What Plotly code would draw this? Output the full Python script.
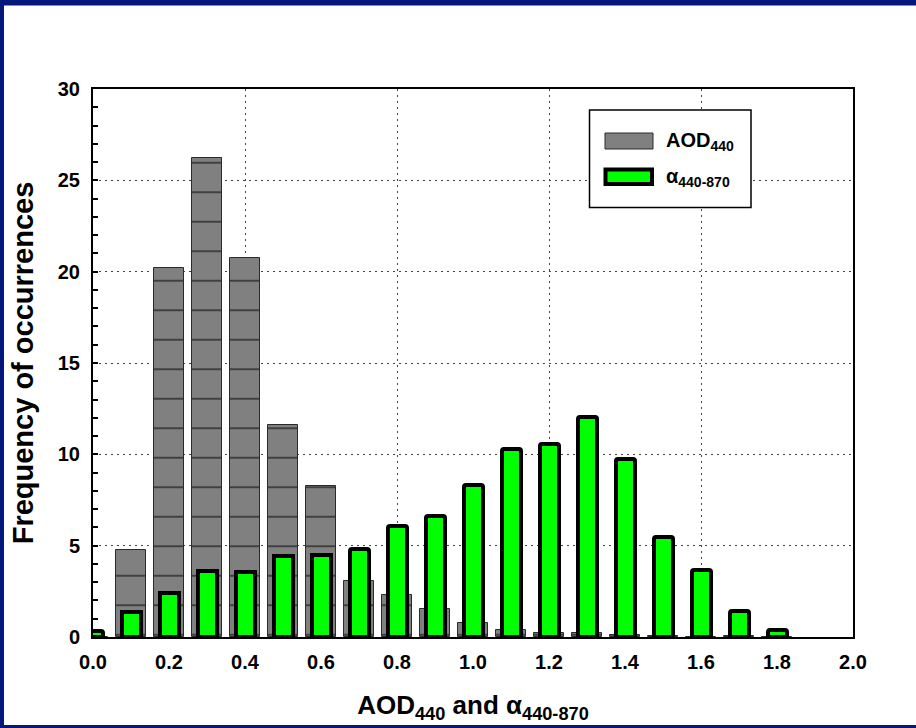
import plotly.graph_objects as go

# Histogram bins (bin centres) and frequency of occurrences (%)
bins = [0.0, 0.1, 0.2, 0.3, 0.4, 0.5, 0.6, 0.7, 0.8, 0.9,
        1.0, 1.1, 1.2, 1.3, 1.4, 1.5, 1.6, 1.7, 1.8]
aod_440 = [0.0, 4.75, 20.2, 26.2, 20.75, 11.6, 8.27, 3.05, 2.3, 1.52,
           0.75, 0.37, 0.22, 0.22, 0.1, 0.05, 0.0, 0.05, 0.0]
alpha_440_870 = [0.33, 1.38, 2.43, 3.62, 3.57, 4.43, 4.48, 4.81, 6.09, 6.65,
                 8.33, 10.3, 10.56, 12.04, 9.72, 5.46, 3.68, 1.44, 0.38]

x_ticks = [0.0, 0.2, 0.4, 0.6, 0.8, 1.0, 1.2, 1.4, 1.6, 1.8, 2.0]
x_tick_text = ["0.0", "0.2", "0.4", "0.6", "0.8", "1.0", "1.2", "1.4", "1.6", "1.8", "2.0"]
y_ticks = [0, 5, 10, 15, 20, 25, 30]

W, H = 916, 728
ML, MR, MT, MB = 93, 63, 89, 91
PW, PH = W - ML - MR, H - MT - MB

FONT = "Liberation Sans, Arial, sans-serif"
NAVY = "#03187a"
GRAY = "#808080"
GREEN = "#00ff00"


def px_x(p):
    return (p - ML) / PW


def px_y(p):
    return (H - MB - p) / PH


fig = go.Figure()

fig.add_trace(go.Bar(
    x=bins, y=aod_440, width=0.08, name="AOD440",
    marker=dict(
        color=GRAY,
        line=dict(color="#2a2a2a", width=1),
        pattern=dict(shape="-", size=29.5, solidity=0.05,
                     fgcolor="#2a2a2a", bgcolor=GRAY, fillmode="replace"),
    ),
    showlegend=False,
))

fig.add_trace(go.Bar(
    x=bins, y=alpha_440_870, width=0.05, name="alpha440-870",
    marker=dict(color=GREEN, line=dict(color="black", width=4), cornerradius=2),
    showlegend=False,
))

# helper trace so the secondary x axis (vertical grid every 0.4) is drawn
fig.add_trace(go.Scatter(x=[None], y=[None], xaxis="x2", yaxis="y",
                         showlegend=False, hoverinfo="skip"))

tick_font = dict(family=FONT, size=20, color="black", weight="bold")

fig.update_layout(
    width=W, height=H,
    margin=dict(l=ML, r=MR, t=MT, b=MB),
    paper_bgcolor="white", plot_bgcolor="white",
    barmode="overlay",
    bargap=0,
    xaxis=dict(
        range=[0, 2.0], tickvals=x_ticks, ticktext=x_tick_text,
        showgrid=False, zeroline=False,
        showline=True, linecolor="black", linewidth=2, mirror=True,
        ticks="", tickfont=tick_font, ticklabelstandoff=6,
        title=dict(text="AOD<sub>440</sub> and \u03b1<sub>440-870</sub>",
                   font=dict(family=FONT, size=26, color="black", weight="bold"),
                   standoff=24),
    ),
    xaxis2=dict(
        overlaying="x", range=[0, 2.0], dtick=0.4, tick0=0,
        showgrid=True, gridcolor="#444", griddash="2px,4px", gridwidth=1,
        showticklabels=False, ticks="", showline=False, zeroline=False,
        anchor="y", side="bottom",
    ),
    yaxis=dict(
        range=[0, 30], tickvals=y_ticks,
        showgrid=True, gridcolor="#444", griddash="2px,4px", gridwidth=1,
        zeroline=False,
        showline=True, linecolor="black", linewidth=2, mirror=True,
        ticks="inside", ticklen=5, tickwidth=1.5, tickcolor="black",
        minor=dict(dtick=1, ticks="inside", ticklen=5, tickwidth=1.5, tickcolor="black",
                   showgrid=False),
        tickfont=tick_font, ticklabelstandoff=7,
        title=dict(text="Frequency of occurrences",
                   font=dict(family=FONT, size=29, color="black", weight="bold"),
                   standoff=16),
    ),
)

shapes = []
# navy frame (top, left, bottom)
shapes.append(dict(type="rect", xref="paper", yref="paper", layer="above",
                   x0=px_x(0), x1=px_x(W), y0=px_y(0), y1=px_y(5.5),
                   fillcolor=NAVY, line=dict(width=0)))
shapes.append(dict(type="rect", xref="paper", yref="paper", layer="above",
                   x0=px_x(0), x1=px_x(4), y0=px_y(0), y1=px_y(H),
                   fillcolor=NAVY, line=dict(width=0)))
shapes.append(dict(type="rect", xref="paper", yref="paper", layer="above",
                   x0=px_x(0), x1=px_x(W), y0=px_y(725), y1=px_y(H),
                   fillcolor=NAVY, line=dict(width=0)))
# legend box and swatches
shapes.append(dict(type="rect", xref="paper", yref="paper", layer="above",
                   x0=px_x(589.5), x1=px_x(751), y0=px_y(110), y1=px_y(207.5),
                   fillcolor="white", line=dict(color="black", width=1.5)))
shapes.append(dict(type="rect", xref="paper", yref="paper", layer="above",
                   x0=px_x(605), x1=px_x(653), y0=px_y(133), y1=px_y(149),
                   fillcolor=GRAY, line=dict(color="#2a2a2a", width=1)))
shapes.append(dict(type="rect", xref="paper", yref="paper", layer="above",
                   x0=px_x(605.5), x1=px_x(652), y0=px_y(169.5), y1=px_y(184),
                   fillcolor=GREEN, line=dict(color="black", width=4)))

legend_font = dict(family=FONT, size=20, color="black", weight="bold")
annotations = [
    dict(text="AOD<sub>440</sub>", xref="paper", yref="paper",
         x=px_x(664), y=px_y(141), xanchor="left", yanchor="middle",
         showarrow=False, font=legend_font),
    dict(text="\u03b1<sub>440-870</sub>", xref="paper", yref="paper",
         x=px_x(664), y=px_y(177), xanchor="left", yanchor="middle",
         showarrow=False, font=legend_font),
]

fig.update_layout(shapes=shapes, annotations=annotations)

fig.write_html("out.html")
